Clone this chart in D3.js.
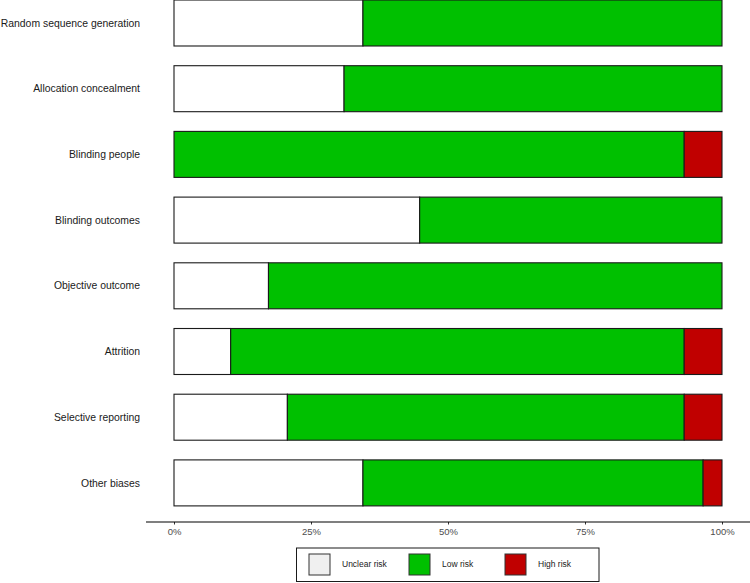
<!DOCTYPE html>
<html>
<head>
<meta charset="utf-8">
<script src="https://cdn.jsdelivr.net/npm/d3@7"></script>
<style>
  html, body { margin: 0; padding: 0; background: #ffffff; }
  svg { display: block; font-family: "Liberation Sans", Arial, Helvetica, sans-serif; }
</style>
</head>
<body>
<svg id="chart" width="750" height="583"></svg>
<script>
// ---- data (number of studies per judgement, out of 29) ----
const categories = [
  "Random sequence generation",
  "Allocation concealment",
  "Blinding people",
  "Blinding outcomes",
  "Objective outcome",
  "Attrition",
  "Selective reporting",
  "Other biases"
];
const unclearRisk = [10, 9, 0, 13, 5, 3, 6, 10];
const lowRisk     = [19, 20, 27, 16, 24, 24, 21, 18];
const highRisk    = [0, 0, 2, 0, 0, 2, 2, 1];
const riskKeys    = ["Unclear risk", "Low risk", "High risk"];
const riskColors  = ["#ffffff", "#00c000", "#c00000"];
const legendFills = ["#f0f0f0", "#00c000", "#c00000"];
const tickValues  = [0, 0.25, 0.5, 0.75, 1];
const tickLabels  = ["0%", "25%", "50%", "75%", "100%"];

const rows = categories.map((c, i) => ({
  domain: c,
  "Unclear risk": unclearRisk[i],
  "Low risk": lowRisk[i],
  "High risk": highRisk[i]
}));

const svg = d3.select("#chart");

const x = d3.scaleLinear().domain([0, 1]).range([174, 722]);
const y = d3.scaleBand().domain(categories).range([-9.85, 515.75])
  .paddingInner(0.3).paddingOuter(0.15);
const color = d3.scaleOrdinal().domain(riskKeys).range(riskColors);

const stacked = d3.stack().keys(riskKeys).offset(d3.stackOffsetExpand)(rows);

// bars
const layers = svg.append("g").selectAll("g").data(stacked).join("g")
  .attr("fill", d => color(d.key));
layers.selectAll("rect")
  .data(d => d.filter(s => s[1] - s[0] > 0))
  .join("rect")
  .attr("x", d => x(d[0]))
  .attr("y", d => y(d.data.domain))
  .attr("width", d => x(d[1]) - x(d[0]))
  .attr("height", y.bandwidth())
  .attr("stroke", "#1a1a1a")
  .attr("stroke-width", 1.1);

// category labels
svg.append("g").selectAll("text").data(categories).join("text")
  .attr("x", 140)
  .attr("y", d => y(d) + y.bandwidth() / 2)
  .attr("dy", "0.35em")
  .attr("text-anchor", "end")
  .attr("font-size", "10.4px")
  .attr("fill", "#1a1a1a")
  .text(d => d);

// x axis
const axisY = 522;
const ax = svg.append("g").attr("transform", `translate(0,${axisY})`)
  .call(d3.axisBottom(x).tickValues(tickValues)
    .tickFormat((d, i) => tickLabels[i]).tickSize(2.5).tickPadding(3.5));
ax.select(".domain").remove();
ax.selectAll(".tick line").attr("stroke", "#333333");
ax.selectAll(".tick text").attr("fill", "#4d4d4d")
  .attr("font-size", "9.5px").attr("font-family", "Liberation Sans, Arial, sans-serif");
svg.append("line").attr("x1", 146).attr("x2", 750)
  .attr("y1", axisY).attr("y2", axisY)
  .attr("stroke", "#000000").attr("stroke-width", 1.1);

// legend
const lg = svg.append("g");
lg.append("rect").attr("x", 296.5).attr("y", 548).attr("width", 302.5).attr("height", 33.5)
  .attr("fill", "#ffffff").attr("stroke", "#1a1a1a").attr("stroke-width", 1);
const legendX = [309, 409, 505];
const items = lg.selectAll("g.item").data(riskKeys).join("g")
  .attr("class", "item")
  .attr("transform", (d, i) => `translate(${legendX[i]},554)`);
items.append("rect").attr("width", 21).attr("height", 21)
  .attr("fill", (d, i) => legendFills[i])
  .attr("stroke", "#333333").attr("stroke-width", 1);
items.append("text").attr("x", 33).attr("y", 10.5).attr("dy", "0.35em")
  .attr("font-size", "8.5px").attr("fill", "#1a1a1a")
  .text(d => d);
</script>
</body>
</html>
